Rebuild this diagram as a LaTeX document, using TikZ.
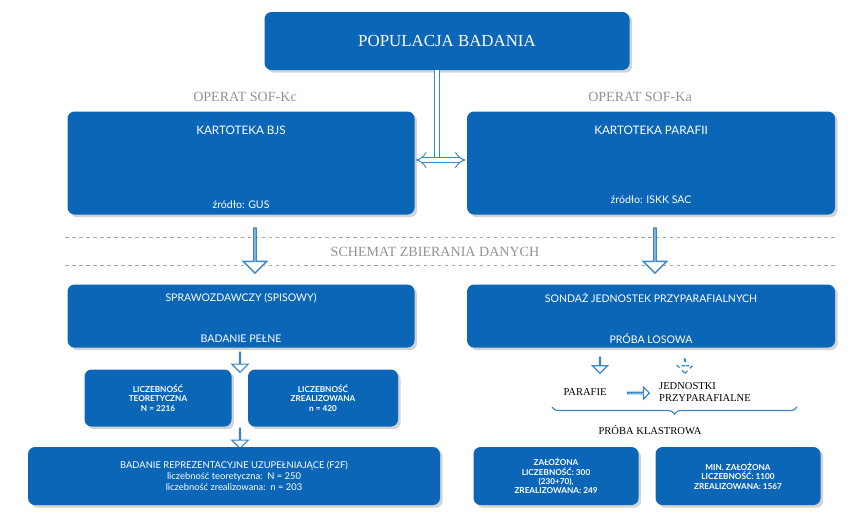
\documentclass[tikz,border=0pt]{standalone}
\usepackage{fontspec}
\setmainfont{Liberation Serif}
\newfontfamily\boxfont{Lato}
\usetikzlibrary{shapes.arrows,shadows,decorations.pathreplacing,arrows.meta}
\definecolor{boxblue}{HTML}{0B66B8}
\definecolor{arrowblue}{HTML}{3C86C8}

\begin{document}
\begin{tikzpicture}[x=0.03cm,y=-0.03cm]
    \tikzstyle{panel}     = [rounded corners=6pt,fill=boxblue,text=white,drop shadow={opacity=0.35},
                             font=\boxfont\small,align=center,inner sep=2pt]
    \tikzstyle{small panel}= [panel,font=\boxfont\bfseries\scriptsize]
    \tikzstyle{operat}    = [text=gray!85,font=\large]
    \tikzstyle{down arrow}= [single arrow,draw=arrowblue,fill=white,line width=1.2pt,rotate=270,
                             single arrow head extend=6pt,inner sep=0pt]
    \tikzstyle{cut}       = [dashed,gray!70,line width=0.6pt]

    \useasboundingbox (0,0) rectangle (850,518);

    \node[panel,minimum width=365*0.03cm,minimum height=58*0.03cm,font=\Large] (pop) at (447,41) {POPULACJA BADANIA};

    \node[panel,minimum width=347*0.03cm,minimum height=103*0.03cm] (bjs) at (241,163) {};
    \node[text=white,font=\boxfont] (bjs1) at (241,130) {KARTOTEKA BJS};
    \node[text=white,font=\boxfont\small] (bjs2) at (241,205) {źródło: GUS};
    \node[panel,minimum width=368*0.03cm,minimum height=103*0.03cm] (par) at (651,163) {};
    \node[text=white,font=\boxfont] (par1) at (651,130) {KARTOTEKA PARAFII};
    \node[text=white,font=\boxfont\small] (par2) at (651,200) {źródło: ISKK SAC};

    \node[operat] (kc) at (245,97) {OPERAT SOF-Kc};
    \node[operat] (ka) at (640,97) {OPERAT SOF-Ka};

    \coordinate (mid) at (437,160);
    \draw[double=white,double distance=4pt,draw=arrowblue,line width=0.8pt] (pop.south-|mid) -- (mid);
    \draw[double=white,double distance=4pt,draw=arrowblue,line width=0.8pt,-{Implies},shorten >=1pt] (mid) -- (par.west|-mid);
    \draw[double=white,double distance=4pt,draw=arrowblue,line width=0.8pt,-{Implies},shorten >=1pt] (mid) -- (bjs.east|-mid);

    \coordinate (c1) at (65,237);  \coordinate (c2) at (835,237);
    \coordinate (c3) at (65,265);  \coordinate (c4) at (835,265);
    \draw[cut] (c1) -- (c2);
    \draw[cut] (c3) -- (c4);

    \node[down arrow,minimum height=45*0.03cm,minimum width=20pt] (a1) at (255,250) {};
    \node[down arrow,minimum height=45*0.03cm,minimum width=20pt] (a2) at (655,250) {};
    \node[operat] (schemat) at (435,252) {SCHEMAT ZBIERANIA DANYCH};

    \node[panel,minimum width=347*0.03cm,minimum height=63*0.03cm] (spr) at (241,316) {};
    \node[text=white,font=\boxfont\small] (spr1) at (241,298) {SPRAWOZDAWCZY (SPISOWY)};
    \node[text=white,font=\boxfont\small] (spr2) at (241,339) {BADANIE PEŁNE};
    \node[panel,minimum width=368*0.03cm,minimum height=63*0.03cm] (son) at (651,316) {};
    \node[text=white,font=\boxfont\small] (son1) at (651,298) {SONDAŻ JEDNOSTEK PRZYPARAFIALNYCH};
    \node[text=white,font=\boxfont\small] (son2) at (651,339) {PRÓBA LOSOWA};

    \node[down arrow,minimum height=20*0.03cm,minimum width=14pt,line width=1pt] (a3) at (240,362) {};
    \node[small panel,minimum width=147*0.03cm,minimum height=57*0.03cm] (teo) at (158,398) {LICZEBNOŚĆ\\TEORETYCZNA\\N = 2216};
    \node[small panel,minimum width=150*0.03cm,minimum height=57*0.03cm] (zre) at (323,398) {LICZEBNOŚĆ\\ZREALIZOWANA\\n = 420};
    \node[down arrow,minimum height=20*0.03cm,minimum width=14pt,line width=1pt] (a4) at (240,438) {};
    \node[panel,minimum width=412*0.03cm,minimum height=58*0.03cm,font=\boxfont\footnotesize] (f2f) at (234,476)
        {BADANIE REPREZENTACYJNE UZUPEŁNIAJĄCE (F2F)\\liczebność teoretyczna:\ \ N = 250\\liczebność zrealizowana:\ \ n = 203};

    \node[down arrow,minimum height=16*0.03cm,minimum width=12pt,line width=1pt] (a5) at (600,365) {};
    \node[down arrow,minimum height=16*0.03cm,minimum width=12pt,line width=1pt,dashed] (a6) at (685,365) {};

    \node[font=\small] (parafie) at (585,392) {PARAFIE};
    \node[font=\small,align=left,anchor=west] (jedn) at (655,392) {JEDNOSTKI\\PRZYPARAFIALNE};
    \node[single arrow,draw=arrowblue,line width=1pt,fill=white,minimum height=22*0.03cm,minimum width=10pt,
          single arrow head extend=3pt,inner sep=0pt] (a7) at (638,393) {};
    \coordinate (b1) at (552,407); \coordinate (b2) at (797,407);
    \draw[arrowblue,line width=1pt,decorate,decoration={brace,mirror,amplitude=6pt}] (b1) -- (b2);
    \node[font=\small] (klast) at (650,430) {PRÓBA KLASTROWA};

    \node[small panel,minimum width=165*0.03cm,minimum height=58*0.03cm] (zal) at (556,476) {ZAŁOŻONA\\LICZEBNOŚĆ: 300\\(230+70),\\ZREALIZOWANA: 249};
    \node[small panel,minimum width=165*0.03cm,minimum height=58*0.03cm] (min) at (738,476) {MIN. ZAŁOŻONA\\LICZEBNOŚĆ: 1100\\ZREALIZOWANA: 1567};
\end{tikzpicture}
\end{document}
